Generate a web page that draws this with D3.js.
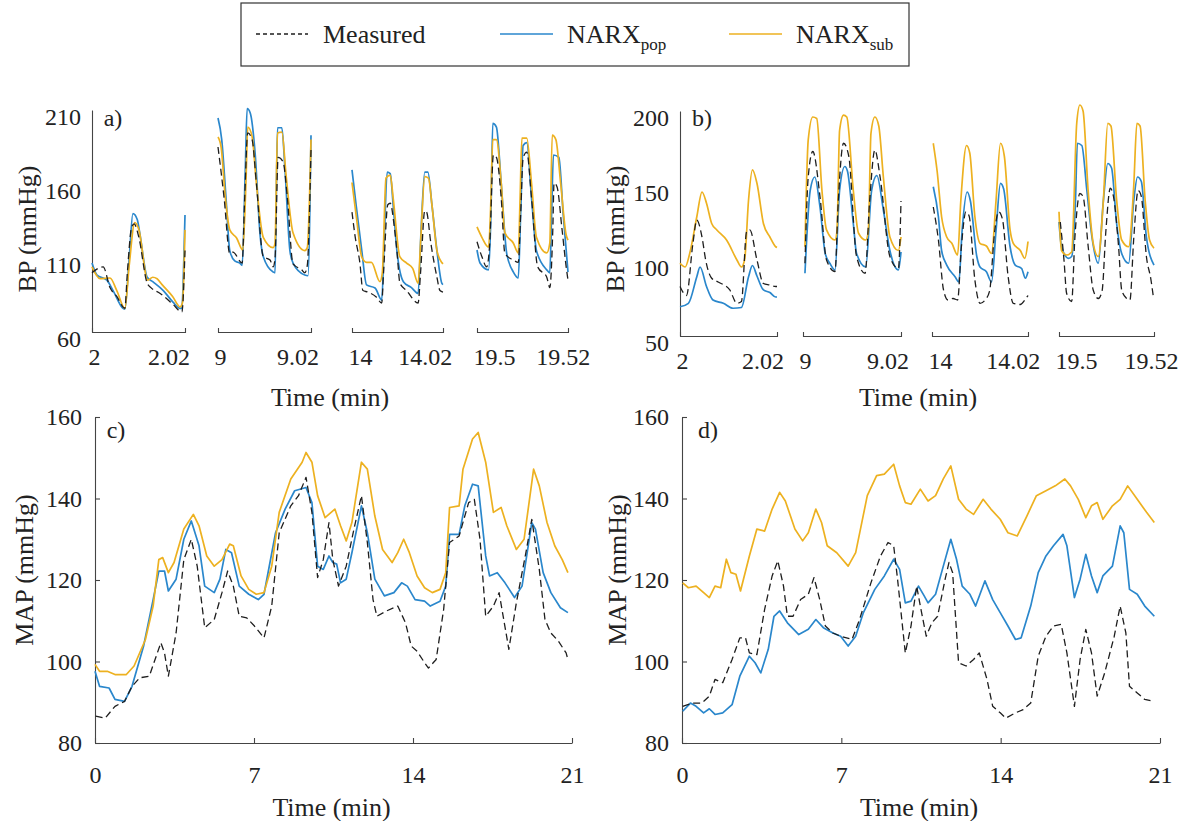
<!DOCTYPE html>
<html>
<head>
<meta charset="utf-8">
<script src="https://cdn.jsdelivr.net/npm/d3@7"></script>
<style>
  body { margin: 0; background: #fff; }
  svg { display: block; }
</style>
</head>
<body>
<svg id="fig" width="1186" height="821"></svg>
<script>
// ---------- data ----------
// Beat-level windows: each window starts at segStarts (min) and lasts 1.5 s.
// Points are [seconds into the window, mmHg].
const segStarts = [2, 9, 14, 19.5];
const segSpanMin = 0.025;
const segTickLabels = [["2", "2.02"], ["9", "9.02"], ["14", "14.02"], ["19.5", "19.52"]];
const bpTicksA = [60, 110, 160, 210];
const bpTicksB = [50, 100, 150, 200];
const mapTicks = [80, 100, 120, 140, 160];
const timeTicks = [0, 7, 14, 21];

const aMeasured = [
  [[0,100],[0.18,104],[0.29,90],[0.4,84],[0.53,76],[0.57,100],[0.64,131],[0.68,133],[0.75,125],[0.89,93],[0.95,90],[1.1,86],[1.3,79],[1.45,73.5],[1.5,115]],
  [[0,185],[0.1,150],[0.19,113],[0.24,114],[0.39,106.6],[0.43,150],[0.48,194.5],[0.55,190],[0.62,160],[0.73,111],[0.84,108.6],[0.89,104],[0.92,110],[0.97,178],[1.05,175],[1.12,150],[1.21,106],[1.35,102],[1.4,100],[1.44,105],[1.5,183]],
  [[0,141],[0.05,125],[0.13,106.6],[0.18,88],[0.26,87],[0.4,83.6],[0.49,79.6],[0.52,100],[0.59,146],[0.63,147],[0.7,130],[0.74,115],[0.79,93],[0.9,88],[1.09,79.6],[1.13,100],[1.2,142],[1.23,141],[1.3,120],[1.4,97],[1.45,88],[1.5,87]],
  [[0,121],[0.08,111],[0.16,104],[0.21,120],[0.27,179.6],[0.32,178],[0.4,150],[0.46,113],[0.6,108.6],[0.68,107],[0.72,140],[0.76,177.6],[0.82,181.6],[0.9,150],[1.0,104],[1.15,97],[1.2,90],[1.25,130],[1.27,160.7],[1.32,158],[1.4,130],[1.47,104],[1.5,95]]
];
const aPop = [
  [[0,106.6],[0.08,98.5],[0.24,95],[0.34,88],[0.5,76],[0.53,75.5],[0.6,110],[0.66,140],[0.73,136],[0.77,127],[0.89,97],[0.98,94],[1.15,88],[1.31,80],[1.42,76],[1.45,76],[1.475,100],[1.5,139]],
  [[0,204.6],[0.06,190],[0.13,150],[0.19,115],[0.27,108],[0.35,106.6],[0.39,105],[0.44,170],[0.47,211],[0.52,208],[0.6,180],[0.68,125],[0.73,111],[0.89,100.5],[0.92,100],[0.94,150],[0.96,198],[1.03,198],[1.08,170],[1.16,115],[1.21,106.6],[1.4,98.5],[1.45,98],[1.5,193]],
  [[0,169.5],[0.07,145],[0.16,115.4],[0.24,91.8],[0.38,89.7],[0.49,81.6],[0.53,120],[0.58,168],[0.63,167],[0.68,145],[0.74,115],[0.85,93.8],[0.98,90],[1.09,86],[1.14,130],[1.2,168],[1.25,168],[1.32,145],[1.4,115],[1.48,93],[1.5,92]],
  [[0,115.4],[0.05,106.6],[0.19,102],[0.23,140],[0.26,201],[0.32,198.5],[0.4,160],[0.49,113],[0.6,100.5],[0.68,96.5],[0.72,140],[0.76,186],[0.82,188],[0.9,150],[0.98,115],[1.15,102],[1.2,100],[1.23,140],[1.26,179.6],[1.35,178],[1.42,140],[1.5,100.5]]
];
const aSub = [
  [[0,104],[0.13,96],[0.29,96.5],[0.4,88],[0.53,76],[0.6,105],[0.69,134],[0.75,130],[0.9,95],[0.98,97],[1.05,96],[1.13,92],[1.3,84],[1.42,77],[1.46,80],[1.5,129]],
  [[0,191.8],[0.05,185],[0.12,150],[0.19,129],[0.3,123.5],[0.4,115.4],[0.45,160],[0.48,198.5],[0.55,192],[0.62,160],[0.73,124],[0.89,117],[0.92,120],[0.96,194.5],[1.03,195],[1.1,165],[1.21,127],[1.4,115],[1.44,117],[1.5,190]],
  [[0,161],[0.08,135],[0.16,110.7],[0.24,107],[0.32,107],[0.46,94],[0.5,100],[0.56,164],[0.63,166],[0.68,150],[0.79,110.7],[0.9,106.6],[1.0,103],[1.09,93],[1.13,120],[1.2,165],[1.26,164],[1.32,145],[1.4,115],[1.48,107],[1.5,106]],
  [[0,131],[0.08,124],[0.19,117.4],[0.23,150],[0.26,190],[0.32,190],[0.4,160],[0.46,127],[0.6,120],[0.68,113.4],[0.71,150],[0.74,191],[0.82,191],[0.9,160],[0.98,124],[1.15,113.4],[1.2,120],[1.24,193],[1.3,190],[1.38,160],[1.47,125.5],[1.5,122]]
];

const bMeasured = [
  [[0,83],[0.1,77],[0.2,111.8],[0.26,127.3],[0.34,116],[0.4,100],[0.49,88.5],[0.59,86],[0.77,80.7],[0.88,71.8],[0.95,73],[1.03,119.5],[1.08,120.7],[1.19,100.7],[1.29,85],[1.39,84],[1.48,83],[1.5,83]],
  [[0.03,98.5],[0.08,156],[0.15,173],[0.26,143],[0.36,100.7],[0.49,93],[0.54,140],[0.62,178.5],[0.7,170],[0.82,103],[0.95,91.8],[1.02,140],[1.1,174],[1.18,156],[1.33,103],[1.46,95],[1.5,140]],
  [[0.02,136],[0.1,114],[0.18,80.7],[0.25,74],[0.33,75],[0.4,74],[0.46,110],[0.53,132.8],[0.58,130],[0.67,87.3],[0.75,71.8],[0.83,74],[0.9,80],[0.98,120],[1.04,132.8],[1.1,128],[1.19,89.5],[1.27,71.8],[1.38,71],[1.45,74],[1.5,77]],
  [[0.02,126],[0.08,100],[0.12,78.5],[0.2,73],[0.25,115],[0.33,145],[0.38,143],[0.46,110],[0.54,80.7],[0.62,75],[0.68,80],[0.74,120],[0.81,148.5],[0.86,143],[0.94,110],[0.99,80.7],[1.07,75],[1.12,74],[1.18,115],[1.25,147],[1.3,143],[1.38,103],[1.45,88],[1.49,76]]
];
const bPop = [
  [[0,69.5],[0.13,71.8],[0.26,89.5],[0.31,96],[0.41,83],[0.51,74],[0.67,71.8],[0.82,68.5],[0.95,69],[1.06,89.5],[1.12,97],[1.19,90],[1.29,80.7],[1.39,79],[1.48,76],[1.5,76]],
  [[0.03,91.8],[0.11,147],[0.18,156],[0.26,136],[0.34,105],[0.41,98.5],[0.49,94],[0.56,147],[0.64,163],[0.68,160],[0.77,125],[0.82,105],[0.96,96],[1.05,147],[1.13,157],[1.23,134],[1.33,107],[1.46,94],[1.5,106]],
  [[0.02,149.5],[0.1,129.5],[0.15,107],[0.23,97.3],[0.36,89.5],[0.42,86],[0.47,120],[0.55,146],[0.6,140],[0.7,103],[0.75,96],[0.85,92.8],[0.93,86],[1.0,120],[1.07,151.8],[1.12,148],[1.22,109.5],[1.3,97.3],[1.4,95],[1.46,88.5],[1.5,92.8]],
  [[0,126],[0.04,109.5],[0.15,101.8],[0.2,103],[0.26,140],[0.29,178.5],[0.36,177],[0.44,147],[0.52,116],[0.62,98.5],[0.7,140],[0.77,165],[0.83,162],[0.91,125],[0.99,105],[1.1,98.5],[1.18,140],[1.24,156],[1.3,153],[1.38,116],[1.5,97.3]]
];
const bSub = [
  [[0,98.5],[0.08,96],[0.15,105],[0.26,129.5],[0.34,146],[0.41,138.5],[0.49,125],[0.57,120.7],[0.72,114],[0.88,100.7],[0.95,96],[1.0,101],[1.06,140.7],[1.12,160.7],[1.19,151.8],[1.29,125],[1.39,116],[1.48,109.5],[1.5,109]],
  [[0.03,109.5],[0.08,180.7],[0.15,196],[0.21,195],[0.29,147],[0.36,120.7],[0.49,114],[0.52,120],[0.56,187],[0.62,197.3],[0.67,196],[0.77,147],[0.85,118.5],[0.96,114],[1.0,120],[1.04,185],[1.1,196],[1.16,190],[1.23,156],[1.33,116],[1.46,107],[1.5,116]],
  [[0.02,178.5],[0.08,160],[0.15,129.5],[0.23,116],[0.31,111.8],[0.4,104],[0.45,140],[0.54,177],[0.59,172],[0.67,129.5],[0.75,111.8],[0.85,110],[0.93,105],[1.0,140],[1.07,178.5],[1.13,170],[1.22,120.7],[1.27,111.8],[1.38,107],[1.45,101.8],[1.5,113]],
  [[0,132.8],[0.04,107],[0.12,104],[0.2,106],[0.28,191.8],[0.33,204],[0.38,200],[0.46,147],[0.54,111.8],[0.62,103],[0.7,140],[0.77,191.8],[0.82,190],[0.91,140.7],[0.99,114],[1.1,109.5],[1.18,150],[1.23,191.8],[1.28,190],[1.36,140.7],[1.43,114],[1.5,108.5]]
];

// Session-long mean arterial pressure, [minutes, mmHg].
const cMeasured = [[0.03,86.6],[0.45,86.1],[0.88,89],[1.3,90.2],[1.63,93.9],[1.97,96],[2.39,96.4],[2.9,104.6],[3.06,102.1],[3.23,96.4],[3.57,107],[3.91,125],[4.24,130],[4.5,123.4],[4.83,108.3],[5.25,110.3],[5.59,116.9],[5.84,122.2],[6.09,118.5],[6.35,111.1],[6.68,110.7],[7.02,108.7],[7.44,105.8],[7.78,113.6],[8.11,131.6],[8.62,138.2],[8.96,140.7],[9.29,145.2],[9.55,136.6],[9.8,120.6],[10.05,125],[10.3,134.1],[10.47,125],[10.72,118.5],[11.06,123.4],[11.4,132.5],[11.73,140.7],[11.99,129.2],[12.24,115.2],[12.41,111.1],[12.83,112.4],[13.33,113.6],[13.67,109.5],[13.92,103.8],[14.18,102.5],[14.51,99.7],[14.68,98.4],[15.02,100.5],[15.35,112.8],[15.61,129.2],[16.03,130.8],[16.45,139],[16.7,139.8],[16.95,130],[17.2,111.1],[17.54,113.6],[17.79,116.9],[18.22,103],[18.55,114.4],[18.97,126.7],[19.23,134.9],[19.56,122.6],[19.81,110.3],[20.07,107],[20.4,105],[20.74,102.1],[20.82,100.5]];
const cPop = [[0,97.6],[0.2,93.9],[0.62,93.5],[0.88,90.7],[1.3,90.2],[1.63,93.9],[2.14,103.8],[2.56,115.2],[2.81,122.2],[3.06,122.2],[3.23,117.3],[3.57,120.2],[3.91,130],[4.24,134.5],[4.58,128.4],[4.83,118.5],[5.25,116.9],[5.5,120.2],[5.76,127.5],[6.01,126.7],[6.35,118.5],[6.77,116.5],[7.19,115.2],[7.44,116.5],[7.95,131.6],[8.37,137.4],[8.79,141.9],[9.29,142.7],[9.55,139],[9.8,123.4],[10.05,122.6],[10.3,125.9],[10.47,124.3],[10.64,123.9],[10.81,119.3],[11.06,120.2],[11.31,126.7],[11.73,138.2],[11.99,131.6],[12.32,120.2],[12.74,116.1],[13.16,116.9],[13.5,119.3],[13.75,118.5],[14.09,115.2],[14.51,114.8],[14.76,113.6],[15.19,114.8],[15.44,118.5],[15.61,131.2],[16.03,131.2],[16.28,138.2],[16.62,143.5],[16.87,143.1],[17.2,125.9],[17.37,121],[17.71,121.8],[18.05,119.3],[18.47,115.7],[18.8,118.5],[19.23,134.1],[19.39,132.5],[19.73,121.8],[20.07,116.9],[20.49,113.2],[20.82,112]];
const cSub = [[0,99.3],[0.2,97.6],[0.54,97.6],[0.88,96.8],[1.38,96.8],[1.72,98.9],[2.22,105.4],[2.56,113.6],[2.81,125],[2.98,125.5],[3.23,121.8],[3.48,124.3],[3.91,132.5],[4.33,136.1],[4.58,133.3],[4.92,125.9],[5.25,123.4],[5.59,125],[5.93,128.8],[6.09,128.4],[6.43,121],[6.77,117.7],[7.1,116.5],[7.44,116.9],[7.78,123.4],[8.11,136.6],[8.62,144.8],[9.12,148.9],[9.29,151.3],[9.55,148.9],[9.8,140.7],[10.13,135.3],[10.56,137.4],[10.81,133.3],[11.06,129.6],[11.31,134.1],[11.73,148.9],[11.99,147.2],[12.32,135.7],[12.66,127.5],[13.08,124.3],[13.33,126.7],[13.59,130],[13.84,126.7],[14.18,121],[14.51,118.1],[14.85,116.9],[15.19,117.7],[15.44,121.8],[15.61,137.8],[16.03,138.2],[16.2,147.2],[16.62,154.6],[16.87,156.2],[17.2,148.9],[17.54,136.6],[17.88,137.8],[18.13,133.3],[18.55,127.5],[18.89,130],[19.31,147.2],[19.56,143.1],[19.9,134.1],[20.24,128.4],[20.57,125],[20.82,121.8]];

const dMeasured = [[0.03,89],[0.45,89.8],[0.87,89.8],[1.2,91.5],[1.45,95.6],[1.79,94.8],[2.2,100.5],[2.54,105.8],[2.79,105.8],[2.96,102.1],[3.29,101.7],[3.63,112.8],[3.96,121],[4.21,124.7],[4.46,118.5],[4.63,111.1],[4.88,111.1],[5.21,115.2],[5.55,116.5],[5.8,120.6],[6.05,115.2],[6.3,108.7],[6.63,107],[6.97,106.2],[7.47,105.4],[7.8,110.3],[8.3,119.3],[8.72,125.9],[9.05,129.2],[9.3,128.4],[9.47,120.2],[9.81,102.1],[10.06,108.7],[10.31,118.5],[10.47,113.6],[10.73,106.2],[10.98,109.5],[11.23,111.1],[11.56,120.2],[11.73,124.3],[11.89,121.8],[12.15,99.7],[12.48,98.9],[12.81,100.5],[13.06,102.1],[13.4,95.6],[13.65,89],[13.98,87.4],[14.23,86.1],[14.65,87.4],[14.99,88.2],[15.32,89.8],[15.65,101.3],[15.99,106.2],[16.32,108.7],[16.66,109.1],[16.91,102.1],[17.24,89],[17.49,100.5],[17.74,107.9],[17.99,102.1],[18.24,91.5],[18.57,97.2],[18.99,106.2],[19.25,113.6],[19.5,107],[19.66,93.9],[20,92.3],[20.33,90.7],[20.75,90.2]];
const dPop = [[0.03,87.8],[0.37,89.8],[0.62,89],[0.95,87.4],[1.2,88.4],[1.45,87],[1.79,87.4],[2.2,89.4],[2.54,96.4],[2.96,101.3],[3.21,99.7],[3.46,97.2],[3.79,103],[4.04,111.1],[4.29,112.4],[4.63,109.5],[5.13,106.6],[5.55,107.9],[5.88,110.3],[6.21,108.3],[6.63,107],[6.97,106.2],[7.3,103.8],[7.63,106.2],[7.97,112],[8.47,117.7],[8.89,121],[9.3,125.1],[9.56,122.6],[9.81,114.4],[10.06,114.8],[10.39,118.5],[10.64,116.1],[10.81,114.4],[11.14,116.5],[11.48,123.4],[11.81,130],[12.06,125.1],[12.31,118.5],[12.65,116.5],[12.9,113.6],[13.31,119.8],[13.65,115.2],[13.98,112],[14.32,108.7],[14.65,105.4],[14.9,105.8],[15.32,113.6],[15.65,121.8],[15.99,125.9],[16.32,128.4],[16.74,131.2],[16.91,128.4],[17.24,115.7],[17.49,120.2],[17.74,126.3],[17.99,121],[18.24,116.9],[18.49,121],[18.91,123.4],[19.25,133.3],[19.41,131.6],[19.66,117.7],[20,116.5],[20.33,113.6],[20.75,111.1]];
const dSub = [[0.03,119.3],[0.28,118.1],[0.62,118.5],[0.95,116.9],[1.2,115.7],[1.45,118.5],[1.7,118.1],[1.95,125.1],[2.15,121.8],[2.37,121.4],[2.57,117.3],[2.96,125.9],[3.29,132.5],[3.63,132],[3.96,137.4],[4.29,141.5],[4.54,139.4],[4.96,132.5],[5.3,129.6],[5.55,131.6],[5.88,137.4],[6.13,134.1],[6.38,128.4],[6.8,126.7],[7.3,123.4],[7.63,126.7],[8.14,140.7],[8.55,145.6],[8.89,146],[9.3,148.4],[9.56,143.1],[9.81,139],[10.06,138.6],[10.47,142.3],[10.81,139.4],[11.14,140.7],[11.48,144.8],[11.81,148],[12.15,139.8],[12.48,137.4],[12.81,136.1],[13.23,139.8],[13.57,137.4],[13.98,134.9],[14.32,131.6],[14.73,130.8],[15.15,135.7],[15.57,140.7],[15.99,141.9],[16.4,143.1],[16.82,144.8],[17.07,143.1],[17.41,139.8],[17.74,135.3],[17.99,138.2],[18.24,139],[18.49,134.9],[18.91,138.2],[19.25,139.8],[19.58,143.1],[20,139.8],[20.41,136.6],[20.75,134.1]];

// ---------- drawing ----------
const W = 1186, H = 821;
const FONT = '"Liberation Serif","Times New Roman",Times,serif';
const COL = { measured: "#1e1e1e", pop: "#2a87cc", sub: "#edb120", axis: "#444" };
const TICK_FS = 24, TITLE_FS = 26;

const svg = d3.select("#fig");
svg.append("rect").attr("width", W).attr("height", H).attr("fill", "#fff");

function styleAxis(g) {
  g.select(".domain").attr("stroke", COL.axis).attr("stroke-width", 1.1);
  g.selectAll(".tick line").attr("stroke", COL.axis).attr("stroke-width", 1.1);
  g.selectAll("text").attr("font-family", FONT).attr("font-size", TICK_FS).attr("fill", "#222");
}

function drawSeries(g, data, line) {
  const specs = [
    { d: data.pop, c: COL.pop, w: 1.7, dash: null },
    { d: data.sub, c: COL.sub, w: 1.7, dash: null },
    { d: data.measured, c: COL.measured, w: 1.3, dash: "7,4" }
  ];
  specs.forEach(s => {
    g.append("path").datum(s.d).attr("d", line)
      .attr("fill", "none").attr("stroke", s.c).attr("stroke-width", s.w)
      .attr("stroke-linejoin", "round")
      .attr("stroke-dasharray", s.dash);
  });
}

function text(x, y, str, opt = {}) {
  return svg.append("text").attr("x", x).attr("y", y)
    .attr("font-family", FONT).attr("font-size", opt.fs || TITLE_FS).attr("fill", "#222")
    .attr("text-anchor", opt.anchor || "middle")
    .attr("dominant-baseline", "central")
    .attr("transform", opt.rotate ? `rotate(-90,${x},${y})` : null)
    .text(str);
}

// Panels a and b: four short windows sharing one BP axis
function segmentedPanel(p) {
  const g = svg.append("g");
  const y = d3.scaleLinear().domain([p.yTicks[0], p.yTicks[p.yTicks.length - 1]]).range([p.yBottom, p.yTop]);
  const ya = g.append("g").attr("transform", `translate(${p.segPx[0][0]},0)`)
    .call(d3.axisLeft(y).tickValues(p.yTicks).tickSizeInner(0).tickSizeOuter(0).tickPadding(11));
  styleAxis(ya);
  ya.selectAll(".tick text").attr("dy", "0.62em");

  segStarts.forEach((s, i) => {
    const x = d3.scaleLinear().domain([s, s + segSpanMin]).range(p.segPx[i]);
    const xa = g.append("g").attr("transform", `translate(0,${p.yBottom})`)
      .call(d3.axisBottom(x).tickValues([s, s + 0.02])
        .tickFormat((d, j) => segTickLabels[i][j])
        .tickSizeInner(0).tickSizeOuter(-4).tickPadding(16));
    styleAxis(xa);
    xa.selectAll(".tick text")
      .attr("text-anchor", (d, j) => j === 0 ? "start" : "middle")
      .attr("dx", (d, j) => j === 0 ? -4 : p.endNudge[i]);

    const line = d3.line().x(d => x(s + d[0] / 60)).y(d => y(d[1])).curve(d3.curveMonotoneX);
    drawSeries(g, { measured: p.measured[i], pop: p.pop[i], sub: p.sub[i] }, line);
  });

  text(p.letter[1], p.letter[2], p.letter[0], { fs: 24 });
  text(p.xTitle[0], p.xTitle[1], "Time (min)");
  text(p.yTitle[0], p.yTitle[1], "BP (mmHg)", { rotate: true });
}

// Panels c and d: full-session MAP
function mapPanel(p) {
  const g = svg.append("g");
  const x = d3.scaleLinear().domain([0, 21]).range([p.x0, p.x1]);
  const y = d3.scaleLinear().domain([80, 160]).range([743, 417]);
  const ya = g.append("g").attr("transform", `translate(${p.x0},0)`)
    .call(d3.axisLeft(y).tickValues(mapTicks).tickSizeInner(-5).tickSizeOuter(0).tickPadding(13));
  styleAxis(ya);
  const xa = g.append("g").attr("transform", "translate(0,743)")
    .call(d3.axisBottom(x).tickValues(timeTicks).tickSizeInner(-5).tickSizeOuter(0).tickPadding(23));
  styleAxis(xa);

  const line = d3.line().x(d => x(d[0])).y(d => y(d[1]));
  drawSeries(g, p, line);

  text(p.letter[1], p.letter[2], p.letter[0], { fs: 24 });
  text((p.x0 + p.x1) / 2 - 2, 807, "Time (min)");
  text(p.yTitleX, 570, "MAP (mmHg)", { rotate: true });
}

segmentedPanel({
  segPx: [[92, 185], [218, 311], [352, 443], [477, 568]],
  yTicks: bpTicksA, yBottom: 332, yTop: 110,
  endNudge: [2, 5, 0, 13],
  measured: aMeasured, pop: aPop, sub: aSub,
  letter: ["a)", 113, 118], xTitle: [330, 397], yTitle: [27, 229]
});
segmentedPanel({
  segPx: [[680, 777], [803, 901], [932, 1028], [1059, 1154]],
  yTicks: bpTicksB, yBottom: 336, yTop: 111,
  endNudge: [5, 6, 4, 16],
  measured: bMeasured, pop: bPop, sub: bSub,
  letter: ["b)", 702, 118], xTitle: [918, 397], yTitle: [615, 229]
});
mapPanel({ x0: 95, x1: 572, measured: cMeasured, pop: cPop, sub: cSub, letter: ["c)", 116, 430], yTitleX: 24 });
mapPanel({ x0: 682, x1: 1160, measured: dMeasured, pop: dPop, sub: dSub, letter: ["d)", 708, 430], yTitleX: 617 });

// ---------- legend ----------
const lg = svg.append("g");
lg.append("rect").attr("x", 241).attr("y", 3).attr("width", 668).attr("height", 63)
  .attr("fill", "#fff").attr("stroke", "#333").attr("stroke-width", 1.2);
const legendItems = [
  { x1: 256, x2: 308, tx: 323, c: COL.measured, dash: "4,3", name: "Measured", sub: null },
  { x1: 500, x2: 553, tx: 567, c: COL.pop, dash: null, name: "NARX", sub: "pop" },
  { x1: 729, x2: 782, tx: 796, c: COL.sub, dash: null, name: "NARX", sub: "sub" }
];
legendItems.forEach(it => {
  lg.append("line").attr("x1", it.x1).attr("x2", it.x2).attr("y1", 34).attr("y2", 34)
    .attr("stroke", it.c).attr("stroke-width", it.dash ? 1.3 : 1.6).attr("stroke-dasharray", it.dash);
  const t = lg.append("text").attr("x", it.tx).attr("y", 43)
    .attr("font-family", FONT).attr("font-size", 26).attr("fill", "#222").text(it.name);
  if (it.sub) t.append("tspan").attr("font-size", 17).attr("dy", 7).text(it.sub);
});
</script>
</body>
</html>
